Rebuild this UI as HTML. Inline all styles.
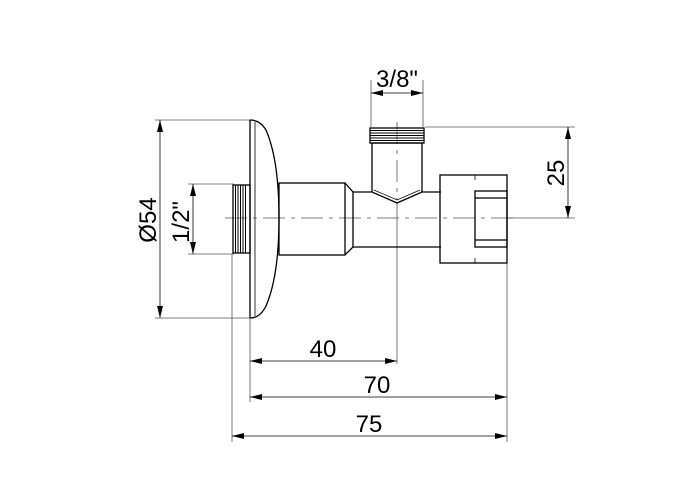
<!DOCTYPE html>
<html><head><style>html,body{margin:0;padding:0;background:#fff}svg{display:block}</style></head>
<body>
<svg width="700" height="500" viewBox="0 0 700 500" xmlns="http://www.w3.org/2000/svg">
<defs>
<marker id="a" viewBox="0 0 12 6" refX="12" refY="3" markerWidth="12" markerHeight="6" orient="auto-start-reverse" markerUnits="userSpaceOnUse"><path d="M0,0 L12,3 L0,6 Z" fill="#000"/></marker>
</defs>
<g stroke="#555" stroke-width="0.8" fill="none">
<line x1="155" y1="120" x2="250" y2="120"/><line x1="155" y1="318" x2="250" y2="318"/>
<line x1="188" y1="184" x2="234" y2="184"/><line x1="188" y1="254" x2="234" y2="254"/>
<line x1="371" y1="80" x2="371" y2="127"/><line x1="423" y1="80" x2="423" y2="127"/>
<line x1="425" y1="127" x2="575" y2="127"/><line x1="507" y1="218" x2="575" y2="218"/>
<line x1="232" y1="254" x2="232" y2="442"/><line x1="250" y1="318" x2="250" y2="402"/>
<line x1="397" y1="203" x2="397" y2="364"/><line x1="507" y1="263" x2="507" y2="442"/>
<line x1="225" y1="218" x2="515" y2="218" stroke-dasharray="22,6,4,6"/>
<line x1="397" y1="122" x2="397" y2="200" stroke-dasharray="22,6,4,6"/>
</g>
<g stroke="#000" stroke-width="0.8" fill="none">
<line x1="160" y1="120" x2="160" y2="318" marker-start="url(#a)" marker-end="url(#a)"/>
<line x1="193" y1="184" x2="193" y2="254" marker-start="url(#a)" marker-end="url(#a)"/>
<line x1="371" y1="93" x2="423" y2="93" marker-start="url(#a)" marker-end="url(#a)"/>
<line x1="568" y1="127" x2="568" y2="218" marker-start="url(#a)" marker-end="url(#a)"/>
<line x1="250" y1="361" x2="397" y2="361" marker-start="url(#a)" marker-end="url(#a)"/>
<line x1="250" y1="397" x2="507" y2="397" marker-start="url(#a)" marker-end="url(#a)"/>
<line x1="232" y1="436" x2="507" y2="436" marker-start="url(#a)" marker-end="url(#a)"/>
</g>
<g stroke="#000" stroke-width="1.3" fill="none">
<path d="M250,120 L250,318 M250,120 Q260,120 266,130 Q279,160 279,218 Q279,276 266,306 Q260,318 250,318"/>
<line x1="255" y1="122" x2="255" y2="316" stroke-width="0.8"/>
<rect x="233" y="185" width="17" height="68"/>
<g stroke-width="1"><line x1="235.5" y1="185" x2="235.5" y2="253"/><line x1="238" y1="185" x2="238" y2="253"/><line x1="240.5" y1="185" x2="240.5" y2="253"/><line x1="243" y1="185" x2="243" y2="253"/><line x1="245.5" y1="185" x2="245.5" y2="253"/></g>
<rect x="279" y="183" width="66" height="72"/>
<path d="M345,183 L353,192 L353,247 L345,255"/>
<path d="M353,192 L372,192 L397,203 L422,192 L441,192 M353,247 L441,247"/>
<path d="M372,192 L372,143 L422,143 L422,192"/>
<path d="M374,190 L397,200 L420,190" stroke-width="0.7"/>
<rect x="370" y="128" width="54" height="15"/>
<g stroke-width="1"><line x1="370" y1="130.5" x2="424" y2="130.5"/><line x1="370" y1="133" x2="424" y2="133"/><line x1="370" y1="135.5" x2="424" y2="135.5"/><line x1="370" y1="138" x2="424" y2="138"/><line x1="370" y1="140.5" x2="424" y2="140.5"/></g>
<rect x="440" y="175" width="67" height="88"/>
<line x1="475" y1="175" x2="475" y2="180" stroke-width="0.8"/>
<line x1="475" y1="258" x2="475" y2="263" stroke-width="0.8"/>
<rect x="475" y="191" width="32" height="56"/>
<line x1="475" y1="198" x2="507" y2="198"/><line x1="475" y1="240" x2="507" y2="240"/>
</g>
<g font-family="Liberation Sans, sans-serif" font-size="24" fill="#000" text-anchor="middle">
<text x="397" y="87">3/8"</text>
<text x="323" y="357">40</text>
<text x="377" y="393">70</text>
<text x="369" y="432">75</text>
<text transform="translate(564,173) rotate(-90)">25</text>
<text transform="translate(156,220) rotate(-90)">Ø54</text>
<text transform="translate(189,222) rotate(-90)">1/2"</text>
</g>
</svg>
</body></html>
